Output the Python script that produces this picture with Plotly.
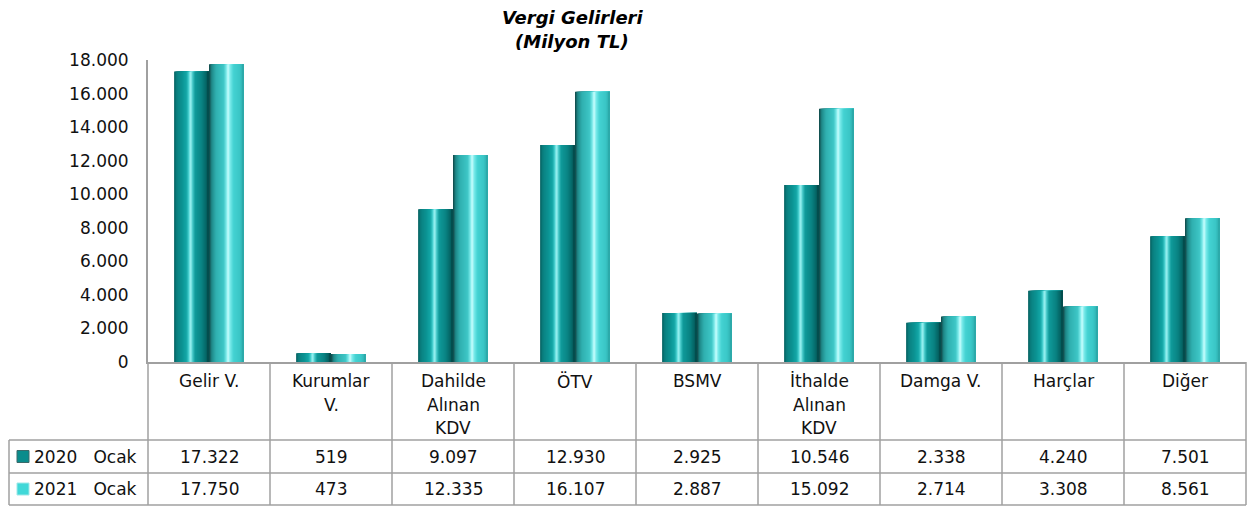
import plotly.graph_objects as go

categories = ["Gelir V.", "Kurumlar<br>V.", "Dahilde<br>Alınan<br>KDV", "ÖTV", "BSMV",
              "İthalde<br>Alınan<br>KDV", "Damga V.", "Harçlar", "Diğer"]
series_names = ["2020  Ocak", "2021  Ocak"]
values_2020 = [17322, 519, 9097, 12930, 2925, 10546, 2338, 4240, 7501]
values_2021 = [17750, 473, 12335, 16107, 2887, 15092, 2714, 3308, 8561]
y_ticks = [0, 2000, 4000, 6000, 8000, 10000, 12000, 14000, 16000, 18000]

W, H = 1253, 506
L, R, T, B = 148, 1246, 60, 362
FONT = "DejaVu Sans"
GRID = "#a0a0a0"

def px(x):
    return (x - L) / (R - L)

def py(y):
    return (B - y) / (B - T)

# cylinder shading colour stops (fraction across bar, colour)
stops_2020 = [(0.00, "#055e5e"), (0.08, "#0a8080"), (0.25, "#0d9696"), (0.36, "#15a8a8"),
              (0.43, "#55d8d8"), (0.47, "#b0fafa"), (0.52, "#50d0d0"), (0.60, "#109a9a"),
              (0.78, "#0a8585"), (0.90, "#066a6a"), (1.00, "#034848")]
stops_2021 = [(0.00, "#0f4444"), (0.08, "#1f8a8a"), (0.20, "#30b0b0"), (0.42, "#3ec6c6"),
              (0.50, "#80ecec"), (0.55, "#d0ffff"), (0.60, "#7eecec"), (0.70, "#44d2d2"),
              (0.88, "#3ac6c6"), (1.00, "#2aa6a6")]

def hex2rgb(h):
    return tuple(int(h[i:i + 2], 16) for i in (1, 3, 5))

def colour_at(stops, f):
    for (f0, c0), (f1, c1) in zip(stops, stops[1:]):
        if f0 <= f <= f1:
            t = (f - f0) / (f1 - f0) if f1 > f0 else 0
            a, b = hex2rgb(c0), hex2rgb(c1)
            return "rgb(%d,%d,%d)" % tuple(round(a[k] + (b[k] - a[k]) * t) for k in range(3))
    return stops[-1][1]

NSTRIP = 34
bw = 0.286
fig = go.Figure()
for vals, stops, base, name in [(values_2020, stops_2020, -bw, series_names[0]),
                                 (values_2021, stops_2021, 0.0, series_names[1])]:
    for s in range(NSTRIP):
        f0 = s / NSTRIP
        fm = (s + 0.5) / NSTRIP
        fig.add_trace(go.Bar(
            x=categories, y=vals, offset=base + f0 * bw, width=(1 - f0) * bw,
            marker=dict(color=colour_at(stops, fm), line=dict(width=0)), name=name,
            showlegend=False, hovertemplate="%{y:,d}<extra>" + name + "</extra>"))

shapes = []
def line(x0, y0, x1, y1):
    shapes.append(dict(type="line", xref="paper", yref="paper",
                       x0=px(x0), y0=py(y0), x1=px(x1), y1=py(y1),
                       line=dict(color=GRID, width=1.5)))

n = len(categories)
col_w = (R - L) / n
for i in range(n + 1):
    xx = L + col_w * i
    line(xx, B, xx, 505)
for yy in (440, 473, 505):
    line(9, yy, R, yy)
line(9, 440, 9, 505)

annotations = []
annotations.append(dict(text="<b><i>Vergi Gelirleri</i></b>", xref="paper", yref="paper",
                        x=px(572), y=py(17), showarrow=False, xanchor="center", yanchor="middle",
                        font=dict(family=FONT, size=18, color="#000")))
annotations.append(dict(text="<b><i>(Milyon TL)</i></b>", xref="paper", yref="paper",
                        x=px(572), y=py(42), showarrow=False, xanchor="center", yanchor="middle",
                        font=dict(family=FONT, size=18, color="#000")))

for i, c in enumerate(categories):
    cx = L + col_w * (i + 0.5)
    for k, part in enumerate(c.split("<br>")):
        annotations.append(dict(text=part, xref="paper", yref="paper", x=px(cx),
                                y=py(381 + 23.5 * k), showarrow=False, xanchor="center",
                                yanchor="middle", font=dict(family=FONT, size=17, color="#111")))

def fmt(v):
    return f"{v:,d}".replace(",", ".")

legend_cols = ["#0a8c8c", "#40d8d8"]
for r, (vals, name, lc) in enumerate([(values_2020, series_names[0], legend_cols[0]),
                                      (values_2021, series_names[1], legend_cols[1])]):
    yc = 456.5 + 32.5 * r
    for i, v in enumerate(vals):
        cx = L + col_w * (i + 0.5)
        annotations.append(dict(text=fmt(v), xref="paper", yref="paper", x=px(cx), y=py(yc),
                                showarrow=False, xanchor="center", yanchor="middle",
                                font=dict(family=FONT, size=17, color="#111")))
    shapes.append(dict(type="rect", xref="paper", yref="paper",
                       x0=px(17), x1=px(29), y0=py(yc - 6), y1=py(yc + 6),
                       fillcolor=lc, line=dict(color="#3a6a6a" if r == 0 else "#9fe8e8", width=1)))
    annotations.append(dict(text=name.replace("  ", "&nbsp;&nbsp;&nbsp;"), xref="paper",
                            yref="paper", x=px(32), y=py(yc), showarrow=False, xanchor="left",
                            yanchor="middle", font=dict(family=FONT, size=17, color="#111")))

fig.update_layout(
    width=W, height=H,
    margin=dict(l=L, r=W - R, t=T, b=H - B, pad=0),
    barmode="overlay",
    paper_bgcolor="white", plot_bgcolor="white",
    separators=",.",
    showlegend=False,
    shapes=shapes, annotations=annotations,
    xaxis=dict(type="category", range=[-0.5, n - 0.5], showticklabels=False, ticks="",
               showgrid=False, showline=True, linecolor=GRID, linewidth=2, zeroline=False,
               fixedrange=True),
    yaxis=dict(range=[0, 18000], tickvals=y_ticks, tickformat=",d", showgrid=False,
               showline=True, linecolor=GRID, linewidth=2, zeroline=False, ticks="",
               ticklabelstandoff=14, tickfont=dict(family=FONT, size=17, color="#111"),
               fixedrange=True),
)

fig.write_html("out.html", config={"displayModeBar": False},
               post_script="document.body.style.margin='0';document.body.style.overflow='hidden';")
